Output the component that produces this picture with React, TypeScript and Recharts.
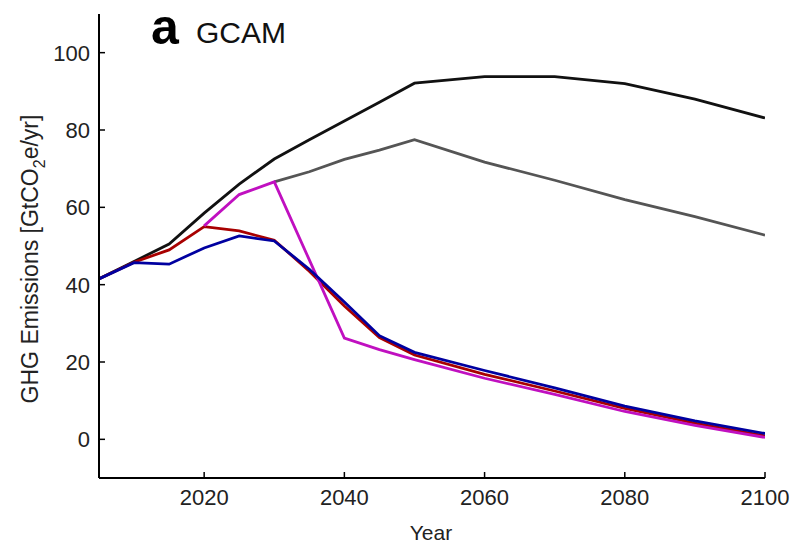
import { LineChart, Line, XAxis, YAxis } from 'recharts';

const years = [2005, 2010, 2015, 2020, 2025, 2030, 2035, 2040, 2045, 2050, 2060, 2070, 2080, 2090, 2100];
const blackSeries = [41.5, 46, 50.5, 58.5, 66, 72.5, 77.5, 82.3, 87.2, 92.1, 93.8, 93.8, 92, 88, 83.1];
const graySeries = [null, null, null, null, null, 66.6, 69.2, 72.4, 74.8, 77.5, 71.7, 67, 62, 57.6, 52.8];
const redSeries = [41.5, 45.8, 49, 55, 53.9, 51.5, 43.5, 34.5, 26.3, 21.8, 16.8, 12.5, 8, 4.2, 0.9];
const blueSeries = [41.5, 45.7, 45.3, 49.5, 52.6, 51.3, 44, 35.5, 26.8, 22.5, 17.8, 13.3, 8.6, 4.8, 1.5];
const magentaSeries = [null, null, null, 55.2, 63.3, 66.6, 46.4, 26.2, 23.2, 20.6, 15.8, 11.6, 7.2, 3.6, 0.5];

const xTicks = [2020, 2040, 2060, 2080, 2100];
const yTicks = [0, 20, 40, 60, 80, 100];

const data = years.map((year, i) => ({
  year,
  black: blackSeries[i],
  gray: graySeries[i],
  red: redSeries[i],
  blue: blueSeries[i],
  magenta: magentaSeries[i],
}));

const FONT = '"Liberation Sans", Arial, Helvetica, sans-serif';

function XTick(props: any) {
  const { x, y, payload } = props;
  return (
    <g>
      <line x1={x} x2={x} y1={y - 10} y2={y - 16} stroke="#000" strokeWidth={1.5} />
      <text x={x} y={y + 17} textAnchor="middle" fontSize={22} fontFamily={FONT} fill="#222">
        {payload.value}
      </text>
    </g>
  );
}

function YTick(props: any) {
  const { x, y, payload } = props;
  return (
    <g>
      <line x1={x + 9} x2={x + 15} y1={y} y2={y} stroke="#000" strokeWidth={1.5} />
      <text x={x} y={y + 8} textAnchor="end" fontSize={22} fontFamily={FONT} fill="#222">
        {payload.value}
      </text>
    </g>
  );
}

export default function App() {
  return (
    <div style={{ position: 'absolute', left: 0, top: 0, width: 792, height: 547, background: '#fff' }}>
      <LineChart width={792} height={547} data={data} margin={{ top: 14, right: 27, bottom: 29, left: 39 }}>
        <XAxis
          dataKey="year"
          type="number"
          domain={[2005, 2100]}
          ticks={xTicks}
          tickSize={0}
          tickMargin={10}
          tickLine={false}
          tick={<XTick />}
          height={40}
          axisLine={{ stroke: '#000', strokeWidth: 2 }}
          allowDataOverflow
        />
        <YAxis
          type="number"
          domain={[-10, 110]}
          ticks={yTicks}
          tickSize={0}
          tickMargin={9}
          tickLine={false}
          tick={<YTick />}
          width={60}
          axisLine={{ stroke: '#000', strokeWidth: 2 }}
          allowDataOverflow
        />
        <Line dataKey="black" stroke="#111111" strokeWidth={2.8} dot={false} isAnimationActive={false} />
        <Line dataKey="gray" stroke="#555555" strokeWidth={2.8} dot={false} isAnimationActive={false} />
        <Line dataKey="red" stroke="#a80000" strokeWidth={2.8} dot={false} isAnimationActive={false} />
        <Line dataKey="magenta" stroke="#c010c0" strokeWidth={2.8} dot={false} isAnimationActive={false} />
        <Line dataKey="blue" stroke="#0000a0" strokeWidth={2.8} dot={false} isAnimationActive={false} />
      </LineChart>
      <svg width={792} height={547} style={{ position: 'absolute', left: 0, top: 0, pointerEvents: 'none' }}>
        <text x={151} y={44} fontSize={50} fontWeight="bold" fontFamily={FONT} fill="#000">a</text>
        <text x={196} y={43} fontSize={30} fontFamily={FONT} fill="#111">GCAM</text>
        <text x={431} y={540} textAnchor="middle" fontSize={21} fontFamily={FONT} fill="#222">Year</text>
        <text
          transform="translate(38, 259) rotate(-90)"
          textAnchor="middle"
          fontSize={23}
          fontFamily={FONT}
          fill="#222"
        >
          GHG Emissions [GtCO<tspan dy={7} fontSize={16}>2</tspan>
          <tspan dy={-7}>e/yr]</tspan>
        </text>
      </svg>
    </div>
  );
}
